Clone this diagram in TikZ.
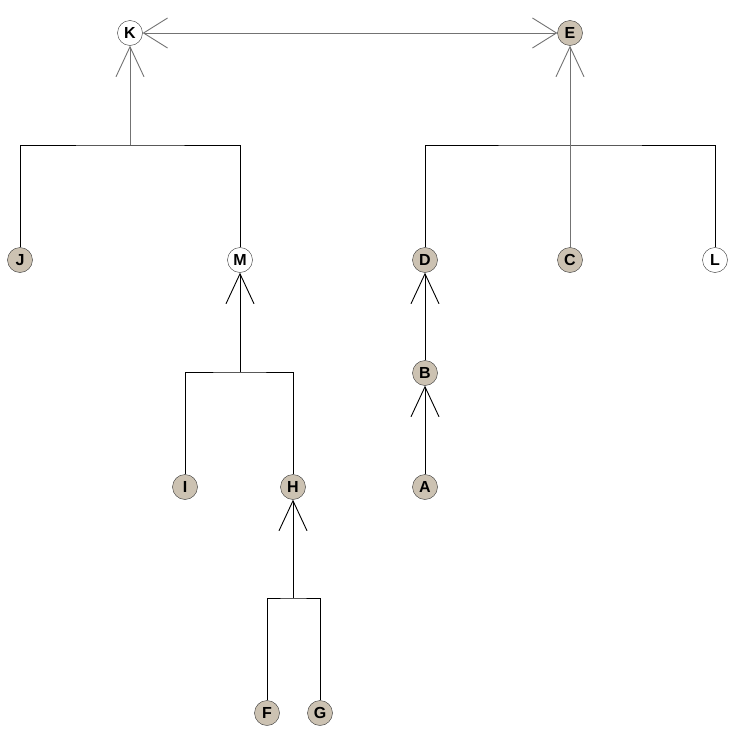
\documentclass[tikz,border=0pt]{standalone}
\usepackage{fontspec}
\setsansfont{Liberation Sans}
\usetikzlibrary{arrows.meta}
\definecolor{tan}{RGB}{204,194,178}
\tikzset{%
  pers/.style={circle,draw=black!80,fill=tan,minimum size=25pt,inner sep=0pt,
    font=\sffamily\bfseries\fontsize{16}{16}\selectfont},
  blank/.style={pers,fill=white},
  fam/.style={draw=black,line width=1pt},
  up/.style={draw=black,line width=.9pt,-{Straight Barb[length=30pt,width=28pt,line width=.9pt]}},
  faint/.style={draw=black!55},
  both/.style={draw=black!55,line width=.9pt,{Straight Barb[length=24pt,width=30pt,line width=.9pt]}-{Straight Barb[length=24pt,width=30pt,line width=.9pt]}}
}

\begin{document}
\begin{tikzpicture}[x=1pt,y=-1pt]
  \useasboundingbox (0,0) rectangle (732,731);

  % people
  \node [blank] (K) at (130,33) {K};
  \node [pers]  (E) at (570,33) {E};
  \node [pers]  (J) at (20,260) {J};
  \node [blank] (M) at (240,260) {M};
  \node [pers]  (D) at (425,260) {D};
  \node [pers]  (C) at (570,260) {C};
  \node [blank] (L) at (715,260) {L};
  \node [pers]  (B) at (425,373) {B};
  \node [pers]  (I) at (185,487) {I};
  \node [pers]  (H) at (293,487) {H};
  \node [pers]  (A) at (425,487) {A};
  \node [pers]  (F) at (267,713) {F};
  \node [pers]  (G) at (320,713) {G};

  % sibling bars
  \coordinate (kbar) at (130,145);
  \coordinate (ebar) at (570,145);
  \coordinate (mbar) at (240,372);
  \coordinate (hbar) at (293,598);

  \draw [both] (K) -- (E);

  \draw [fam] (J) |- (kbar) -| (M);
  \draw [up,faint] (kbar) -- (K);

  \draw [fam] (D) |- (ebar) -| (L);
  \draw [up,faint] (C) -- (E);

  \draw [fam] (I) |- (mbar) -| (H);
  \draw [up] (mbar) -- (M);

  \draw [fam] (F) |- (hbar) -| (G);
  \draw [up] (hbar) -- (H);

  \draw [up] (B) -- (D);
  \draw [up] (A) -- (B);
\end{tikzpicture}
\end{document}
